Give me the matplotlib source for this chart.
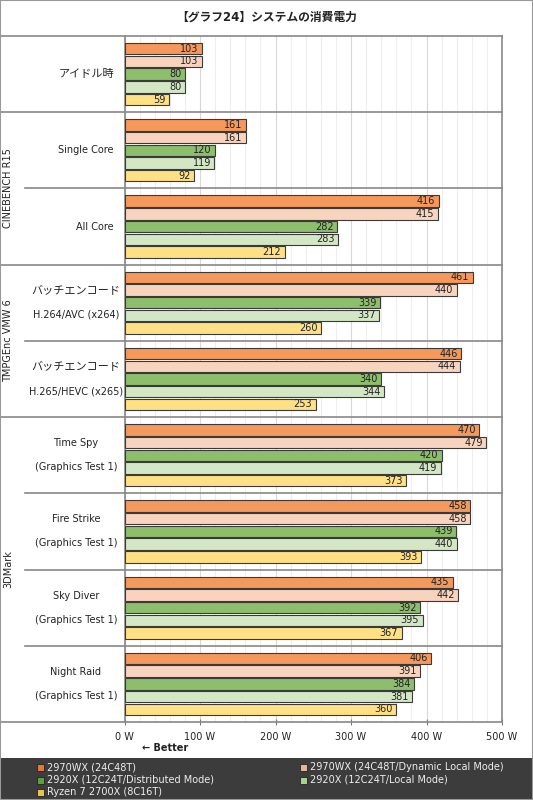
import matplotlib.pyplot as plt
from matplotlib.patches import Rectangle
from matplotlib.ticker import MultipleLocator, FixedLocator

plt.rcParams['font.family'] = ['DejaVu Sans', 'Noto Sans CJK JP']

# data
kategori = [
    ["アイドル時"],
    ["Single Core"],
    ["All Core"],
    ["バッチエンコード", "H.264/AVC (x264)"],
    ["バッチエンコード", "H.265/HEVC (x265)"],
    ["Time Spy", "(Graphics Test 1)"],
    ["Fire Strike", "(Graphics Test 1)"],
    ["Sky Diver", "(Graphics Test 1)"],
    ["Night Raid", "(Graphics Test 1)"],
]
seri = [
    "2970WX (24C48T)",
    "2970WX (24C48T/Dynamic Local Mode)",
    "2920X (12C24T/Distributed Mode)",
    "2920X (12C24T/Local Mode)",
    "Ryzen 7 2700X (8C16T)",
]
nilai = [
    [103, 103, 80, 80, 59],
    [161, 161, 120, 119, 92],
    [416, 415, 282, 283, 212],
    [461, 440, 339, 337, 260],
    [446, 444, 340, 344, 253],
    [470, 479, 420, 419, 373],
    [458, 458, 439, 440, 393],
    [435, 442, 392, 395, 367],
    [406, 391, 384, 381, 360],
]
# group label, first category, last category
grup = [
    ("", 0, 0),
    ("CINEBENCH R15", 1, 2),
    ("TMPGEnc VMW 6", 3, 4),
    ("3DMark", 5, 8),
]
tick_nilai = [0, 100, 200, 300, 400, 500]
tick_label = ["0 W", "100 W", "200 W", "300 W", "400 W", "500 W"]

warna_bar = ["#F4985C", "#F8D4BE", "#8CBE6B", "#D3E7C5", "#FFE084"]
warna_legend = ["#E0783A", "#E2B49A", "#5E9E3E", "#A8CE94", "#E8C24C"]

FS = 7
FS_JP = 8

W, H = 533, 800
fig = plt.figure(figsize=(W / 100, H / 100), dpi=100)

x0, x1 = 124.5, 502
y_top, y_bot = 36, 722
ax = fig.add_axes([x0 / W, 1 - y_bot / H, (x1 - x0) / W, (y_bot - y_top) / H])

n = len(kategori)
slot = 6
for i, vals in enumerate(nilai):
    for j, v in enumerate(vals):
        yc = i * slot + 0.5 + j + 0.5
        ax.barh(yc, v, height=0.9, color=warna_bar[j], edgecolor="#3a3a3a",
                linewidth=0.8, zorder=3)
        ax.annotate(str(v), (v, yc), xytext=(-2.5, 0), textcoords="offset points",
                    ha="right", va="center", fontsize=FS, color="#222222", zorder=4)

ax.set_xlim(0, 500)
ax.set_ylim(n * slot, 0)
ax.set_yticks([])
ax.xaxis.set_major_locator(FixedLocator(tick_nilai))
ax.set_xticklabels(tick_label, fontsize=FS, color="#222222")
ax.xaxis.set_minor_locator(MultipleLocator(20))
ax.tick_params(axis="x", which="major", length=4, direction="inout",
               color="#777777", pad=5)
ax.tick_params(axis="x", which="minor", length=0)
ax.grid(axis="x", which="minor", color="#eeeeee", linewidth=0.8, zorder=0)
ax.grid(axis="x", which="major", color="#d8d8d8", linewidth=0.8, zorder=0)
for s in ["left", "right"]:
    ax.spines[s].set_color("#888888")
    ax.spines[s].set_linewidth(1.2)
ax.spines["top"].set_visible(False)
ax.spines["bottom"].set_visible(False)

tr = ax.get_yaxis_transform()
px = lambda p: (p - x0) / (x1 - x0)

# separator lines
batas_penuh = [0, n * slot] + [g[1] * slot for g in grup[1:]]
for b in batas_penuh:
    ax.plot([px(0), 1], [b, b], transform=tr, color="#888888", lw=1.2,
            clip_on=False, zorder=5)
for nama, a, z in grup:
    for k in range(a + 1, z + 1):
        ax.plot([px(25), 1], [k * slot, k * slot], transform=tr, color="#888888",
                lw=1.2, clip_on=False, zorder=5)
    if nama:
        ax.text(px(8), (a * slot + (z + 1) * slot) / 2, nama, transform=tr,
                rotation=90, ha="center", va="center", fontsize=FS, color="#222222")


def ukuran(t):
    # teks jepang sedikit lebih besar
    return FS_JP if any(ord(c) > 0x3000 for c in t) else FS


# category labels
off = 12 / 76.2 * slot
for i, lab in enumerate(kategori):
    yc = i * slot + 3
    if len(lab) == 1:
        ax.text(px(114), yc, lab[0], transform=tr, ha="right", va="center",
                fontsize=ukuran(lab[0]), color="#222222")
    else:
        for k, t in enumerate(lab):
            ax.text(px(76), yc + (k * 2 - 1) * off, t, transform=tr, ha="center",
                    va="center", fontsize=ukuran(t), color="#222222")

ax.text(px(165), -26 / (y_bot - y_top), "← Better", transform=ax.transAxes,
        ha="center", va="center", fontsize=FS, fontweight="bold", color="#222222")

fig.text(0.5, 1 - 17 / H, "【グラフ24】システムの消費電力", ha="center", va="center",
         fontsize=8.5, fontweight="bold", color="#222222")

# legend
fig.patches.append(Rectangle((0, 0), 1, 42 / H, transform=fig.transFigure,
                             facecolor="#3c3c3c", edgecolor="none", zorder=0))
pos = [(37, 767), (300, 767), (37, 780), (300, 780), (37, 792)]
for j, nama in enumerate(seri):
    lx, ly = pos[j]
    fig.patches.append(Rectangle((lx / W, 1 - (ly + 3.5) / H), 7 / W, 7 / H,
                                 transform=fig.transFigure, facecolor=warna_legend[j],
                                 edgecolor="#222222", lw=0.6, zorder=2))
    fig.text((lx + 10) / W, 1 - ly / H, nama, ha="left", va="center",
             fontsize=FS, color="#eeeeee")

fig.patches.append(Rectangle((0, 0), 1, 1, transform=fig.transFigure,
                             facecolor="none", edgecolor="#999999", lw=1.5, zorder=10))

fig.savefig("out.png", dpi=100)
